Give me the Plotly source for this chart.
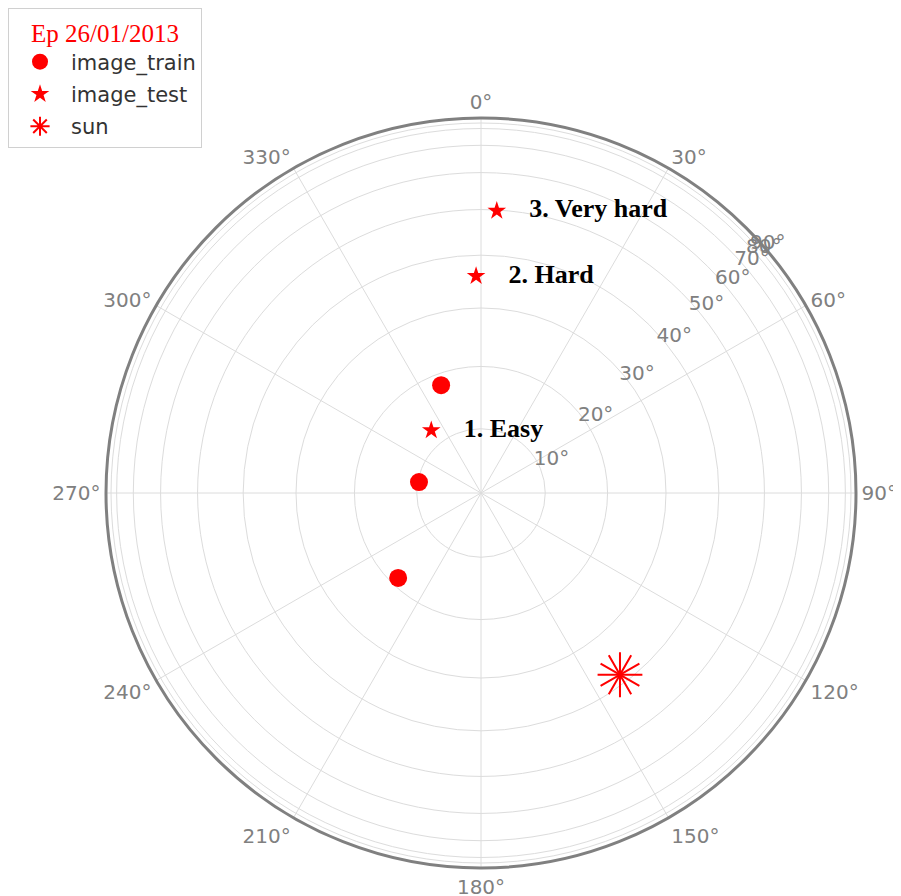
import numpy as np
import plotly.graph_objects as go

# zenith angle (deg) and azimuth (deg, clockwise from north)
train_zenith = [18.1, 9.8, 18.7]
train_azimuth = [339.7, 280.0, 224.3]

test_zenith = [12.5, 35.9, 49.8]
test_azimuth = [321.6, 358.7, 3.2]
test_labels = ["1. Easy", "2. Hard", "3. Very hard"]

sun_zenith = [38.2]
sun_azimuth = [142.6]

radial_ticks = [10, 20, 30, 40, 50, 60, 70, 80, 90]

RADIAL_ANGLE = 45


def proj(z):
    # sin projection of zenith angle onto the plane
    return np.sin(np.radians(z))


fig = go.Figure()

fig.add_trace(go.Scatterpolar(
    r=proj(train_zenith), theta=train_azimuth, mode="markers", name="image_train",
    marker=dict(symbol="circle", size=18, color="red")))

fig.add_trace(go.Scatterpolar(
    r=proj(test_zenith), theta=test_azimuth, mode="markers", name="image_test",
    marker=dict(symbol="star", size=14, color="red")))

# legend entry for the sun (no points drawn)
fig.add_trace(go.Scatterpolar(
    r=[None], theta=[None], mode="markers", name="sun", legendgroup="sun",
    marker=dict(symbol="asterisk-open", size=32, color="red",
                line=dict(color="red", width=2))))

# sun: three rotated crosses -> 12 spoke burst
for ang in [0, 30, 60]:
    fig.add_trace(go.Scatterpolar(
        r=proj(sun_zenith), theta=sun_azimuth, mode="markers", name="sun",
        legendgroup="sun", showlegend=False,
        marker=dict(symbol="cross-thin-open", size=32, color="red", angle=ang,
                    line=dict(color="red", width=2))))

# labels next to the test images
fig.add_trace(go.Scatterpolar(
    r=proj(test_zenith), theta=test_azimuth, mode="text", showlegend=False,
    text=["\u00a0" * 5 + t for t in test_labels], textposition="middle right",
    textfont=dict(family="Liberation Serif", size=26, color="black", weight="bold")))

fig.update_layout(
    width=901, height=896,
    margin=dict(l=0, r=0, t=0, b=0),
    paper_bgcolor="white",
    font=dict(family="DejaVu Sans", color="#333"),
    polar=dict(
        domain=dict(x=[98 / 901, 848 / 901], y=[1 - 860 / 896, 1 - 110 / 896]),
        bgcolor="white",
        angularaxis=dict(
            rotation=90, direction="clockwise", dtick=30, ticksuffix="°",
            showline=True, linecolor="#808080", linewidth=3,
            gridcolor="#dcdcdc", gridwidth=1.2, ticks="",
            tickfont=dict(size=20, color="#808080")),
        radialaxis=dict(
            range=[0, 1.0135], angle=RADIAL_ANGLE, tickangle=RADIAL_ANGLE,
            side="clockwise", showline=False, ticks="",
            tickvals=proj(radial_ticks), ticktext=[f"{t}°" for t in radial_ticks],
            gridcolor="#dcdcdc", gridwidth=1.2,
            tickfont=dict(size=20, color="#808080")),
    ),
    legend=dict(
        x=0, y=1, xanchor="left", yanchor="top",
        bordercolor="#d0d0d0", borderwidth=1, bgcolor="white",
        font=dict(size=21, color="#333"), itemwidth=52, tracegroupgap=2,
        title=dict(text="Ep 26/01/2013", side="top center",
                   font=dict(family="Liberation Serif", size=25, color="red")),
    ),
)

fig.write_html("out.html")
